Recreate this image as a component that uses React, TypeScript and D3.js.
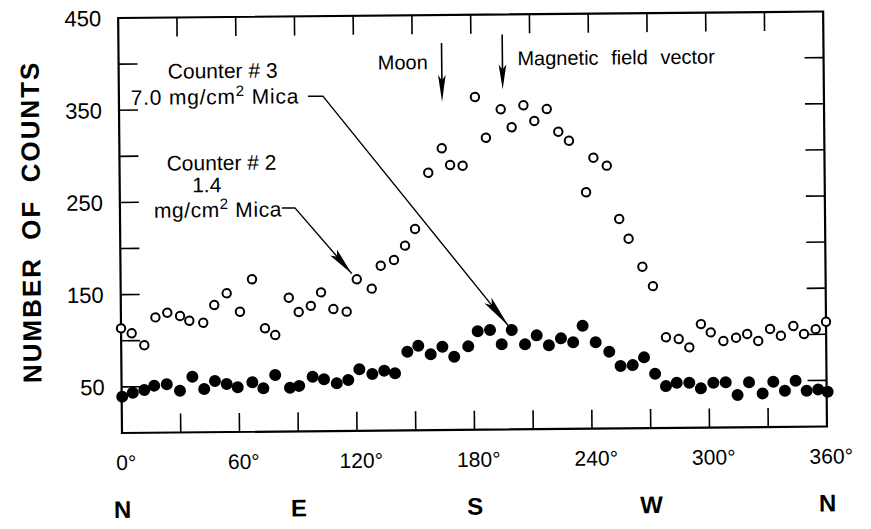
import React, { useEffect } from 'react';
import * as d3 from 'd3';

// Counter #2 (1.4 mg/cm2 Mica) - open circles
const openAngles = [0, 5.4, 11.8, 17.6, 23.7, 30.2, 34.9, 42, 47.7, 54.1, 60.8, 67.1, 73.5, 78.7, 85.8, 90.8, 97, 102.3, 108.5, 115.3, 120.6, 128.2, 132.9, 139.7, 145.4, 150.6, 157.6, 164.6, 168.8, 175.2, 181.8, 187.2, 194.9, 200.4, 206.5, 212, 218.4, 224.2, 229.6, 238.1, 242, 248.8, 254.9, 259.6, 266.5, 271.8, 278.2, 284.7, 290.1, 296.1, 301.1, 307.5, 314, 319.7, 325.3, 331.4, 336.9, 343.3, 348.7, 354.7, 360];
const openCounts = [113.5, 108, 95, 125, 130, 126.3, 121, 118.7, 137.8, 150.4, 130.3, 165.4, 112.1, 104.7, 145, 129.5, 136, 150.5, 132.3, 129.3, 164.3, 154, 178.8, 184.9, 200.3, 218.3, 279.1, 305.5, 287.3, 286.4, 360.8, 316.5, 347.2, 327.6, 351.3, 334.2, 347, 322.3, 312.4, 256.4, 293.8, 285, 227.1, 205.6, 175.1, 153.9, 98.3, 96.3, 87.2, 112.3, 103.2, 93.7, 97.2, 101.1, 93.4, 106.3, 98.9, 109.3, 100.5, 105.7, 113.5];

// Counter #3 (7.0 mg/cm2 Mica) - filled circles
const filledAngles = [0.3, 5.7, 11.6, 16.7, 23.1, 29.8, 36.2, 42.2, 47.7, 53.7, 59.3, 66.8, 72.4, 78.5, 86, 90.7, 97.6, 103.4, 109.9, 115.8, 121.5, 128.1, 134.2, 139.7, 146.1, 151.7, 158, 164, 170, 177.2, 182.1, 188.4, 194.3, 199.5, 206.2, 212.2, 218.4, 224.6, 230.8, 235.7, 242.3, 249.2, 254.9, 261.1, 266.9, 272.5, 278, 283.5, 289.9, 295.8, 302.2, 308.5, 314.5, 320.4, 327.3, 332.8, 338.7, 344.2, 349.8, 355.7, 360.5];
const filledCounts = [39.4, 43.6, 46.4, 51, 52.4, 45.3, 60.3, 46.8, 55.4, 52.1, 48.4, 53.7, 47.1, 61.4, 47.3, 49.3, 59.1, 56.2, 51.7, 55.2, 66.7, 61.5, 65, 62, 85.2, 91.6, 82.2, 90.3, 79.4, 90.5, 106.8, 108, 92.4, 107.8, 92.1, 101.7, 90.8, 98.2, 93.8, 111.7, 93.6, 83.3, 67.7, 68.5, 76.8, 58.9, 45.4, 48.9, 48.8, 42.6, 48.6, 48.9, 35, 48.7, 36.5, 49, 39.1, 49.9, 38.9, 40.3, 37.6];

const xTickLabels = [0, 60, 120, 180, 240, 300, 360];
const xTickMarks = [30, 60, 90, 120, 150, 180, 210, 240, 270, 300, 330];
const yTickLabels = [50, 150, 250, 350, 450];
const yTickMarks = [50, 100, 150, 200, 250, 300, 350, 400];
const compassLabels = ['N', 'E', 'S', 'W', 'N'];
const compassAngles = [0, 90, 180, 270, 360];

const moonAngle = 165;
const fieldAngle = 196;
const counter3Target = 33; // index into filled series
const counter2Target = 20; // index into open series

function arrowHead(tx: number, ty: number, fx: number, fy: number, len: number, hw: number) {
  const dx = tx - fx, dy = ty - fy;
  const L = Math.hypot(dx, dy);
  const ux = dx / L, uy = dy / L;
  const px = -uy, py = ux;
  const bx = tx - ux * len, by = ty - uy * len;
  const nx = tx - ux * len * 0.8, ny = ty - uy * len * 0.8;
  return [
    [tx, ty],
    [bx + px * hw, by + py * hw],
    [nx, ny],
    [bx - px * hw, by - py * hw],
  ].map(p => p.join(',')).join(' ');
}

export default function App() {
  useEffect(() => {
    document.body.style.margin = '0';
  }, []);
  const W = 871, H = 529;
  const x = d3.scaleLinear().domain([0, 360]).range([122, 827]);
  const y = d3.scaleLinear().domain([0, 450]).range([433, 18]);
  const font = "'Liberation Sans', Arial, Helvetica, sans-serif";
  const tickLen = 19;

  // Counter 3 leader line
  const c3Knee: [number, number] = [326, 98];
  const c3Start: [number, number] = [311, 98];
  const c3cx = x(filledAngles[counter3Target]), c3cy = y(filledCounts[counter3Target]);
  const c3L = Math.hypot(c3cx - c3Knee[0], c3cy - c3Knee[1]);
  const c3Tip: [number, number] = [c3cx - (c3cx - c3Knee[0]) / c3L * 5, c3cy - (c3cy - c3Knee[1]) / c3L * 5];

  // Counter 2 leader line
  const c2Knee: [number, number] = [297, 209.5];
  const c2Start: [number, number] = [284, 209.5];
  const c2cx = x(openAngles[counter2Target]), c2cy = y(openCounts[counter2Target]);
  const c2L = Math.hypot(c2cx - c2Knee[0], c2cy - c2Knee[1]);
  const c2Tip: [number, number] = [c2cx - (c2cx - c2Knee[0]) / c2L * 7.5, c2cy - (c2cy - c2Knee[1]) / c2L * 7.5];

  const line = d3.line();

  const moonX = x(moonAngle), fieldX = x(fieldAngle);
  const moonTop = 46, moonTip = 105;
  const fieldTop = 38, fieldTip = 93;

  return (
    <svg width={W} height={H} style={{ display: 'block', position: 'absolute', left: 0, top: 0 }} fontFamily={font}>
      <rect width={W} height={H} fill="#fff" />
      <g transform="rotate(-0.53 122 433)">
        {/* frame */}
        <rect x={x(0)} y={y(450)} width={x(360) - x(0)} height={y(0) - y(450)} fill="none" stroke="#000" strokeWidth={2.2} />
        {/* y ticks left & right */}
        {yTickMarks.map(t => (
          <g key={'yt' + t}>
            <line x1={x(0)} x2={x(0) + tickLen} y1={y(t)} y2={y(t)} stroke="#000" strokeWidth={1.6} />
            <line x1={x(360)} x2={x(360) - tickLen} y1={y(t)} y2={y(t)} stroke="#000" strokeWidth={1.6} />
          </g>
        ))}
        {/* x ticks top & bottom */}
        {xTickMarks.map(t => (
          <g key={'xt' + t}>
            <line x1={x(t)} x2={x(t)} y1={y(450)} y2={y(450) + tickLen} stroke="#000" strokeWidth={1.6} />
            <line x1={x(t)} x2={x(t)} y1={y(0)} y2={y(0) - tickLen} stroke="#000" strokeWidth={1.6} />
          </g>
        ))}
        {/* y tick labels */}
        {yTickLabels.map(t => (
          <text key={'yl' + t} x={x(0) - 17} y={y(t)} dy="0.36em" textAnchor="end" fontSize={22}>{t}</text>
        ))}
        {/* x tick labels */}
        {xTickLabels.map(t => (
          <text key={'xl' + t} x={x(t)} dx={4} y={470} textAnchor="middle" fontSize={21}>{t + '°'}</text>
        ))}
        {/* compass */}
        {compassLabels.map((c, i) => (
          <text key={'c' + i} x={x(compassAngles[i])} y={518} textAnchor="middle" fontSize={24} fontWeight="bold">{c}</text>
        ))}
        {/* y title */}
        <text transform="translate(42,221) rotate(-90)" textAnchor="middle" fontSize={26} fontWeight="bold" letterSpacing={2} wordSpacing={8}>NUMBER OF COUNTS</text>

        {/* data: open circles */}
        {openAngles.map((a, i) => (
          <circle key={'o' + i} cx={x(a)} cy={y(openCounts[i])} r={4.2} fill="#fff" stroke="#000" strokeWidth={2} />
        ))}
        {/* data: filled circles */}
        {filledAngles.map((a, i) => (
          <circle key={'f' + i} cx={x(a)} cy={y(filledCounts[i])} r={6} fill="#000" />
        ))}

        {/* Counter 3 annotation */}
        <text x={226} y={79} textAnchor="middle" fontSize={21}>Counter # 3</text>
        <text x={218} y={105} textAnchor="middle" fontSize={21} letterSpacing={0.8}>
          7.0 mg/cm<tspan dy={-8} fontSize={15}>2</tspan><tspan dy={8}> Mica</tspan>
        </text>
        <path d={line([c3Start, c3Knee, c3Tip]) || ''} fill="none" stroke="#000" strokeWidth={1.4} />
        <polygon points={arrowHead(c3Tip[0], c3Tip[1], c3Knee[0], c3Knee[1], 33, 4.5)} fill="#000" />

        {/* Counter 2 annotation */}
        <text x={224} y={171} textAnchor="middle" fontSize={21}>Counter # 2</text>
        <text x={209} y={193} textAnchor="middle" fontSize={21}>1.4</text>
        <text x={220} y={218} textAnchor="middle" fontSize={21} letterSpacing={0.6}>
          mg/cm<tspan dy={-8} fontSize={15}>2</tspan><tspan dy={8}> Mica</tspan>
        </text>
        <path d={line([c2Start, c2Knee, c2Tip]) || ''} fill="none" stroke="#000" strokeWidth={1.4} />
        <polygon points={arrowHead(c2Tip[0], c2Tip[1], c2Knee[0], c2Knee[1], 28, 4.5)} fill="#000" />

        {/* Moon arrow */}
        <text x={moonX - 14} y={72} textAnchor="end" fontSize={20}>Moon</text>
        <line x1={moonX} x2={moonX} y1={moonTop} y2={moonTip - 10} stroke="#000" strokeWidth={1.6} />
        <polygon points={arrowHead(moonX, moonTip, moonX, moonTop, 27, 3.8)} fill="#000" />

        {/* Magnetic field arrow */}
        <text x={fieldX + 15} y={69} textAnchor="start" fontSize={20} wordSpacing={7}>Magnetic field vector</text>
        <line x1={fieldX} x2={fieldX} y1={fieldTop} y2={fieldTip - 10} stroke="#000" strokeWidth={1.6} />
        <polygon points={arrowHead(fieldX, fieldTip, fieldX, fieldTop, 25, 3.8)} fill="#000" />
      </g>
    </svg>
  );
}
